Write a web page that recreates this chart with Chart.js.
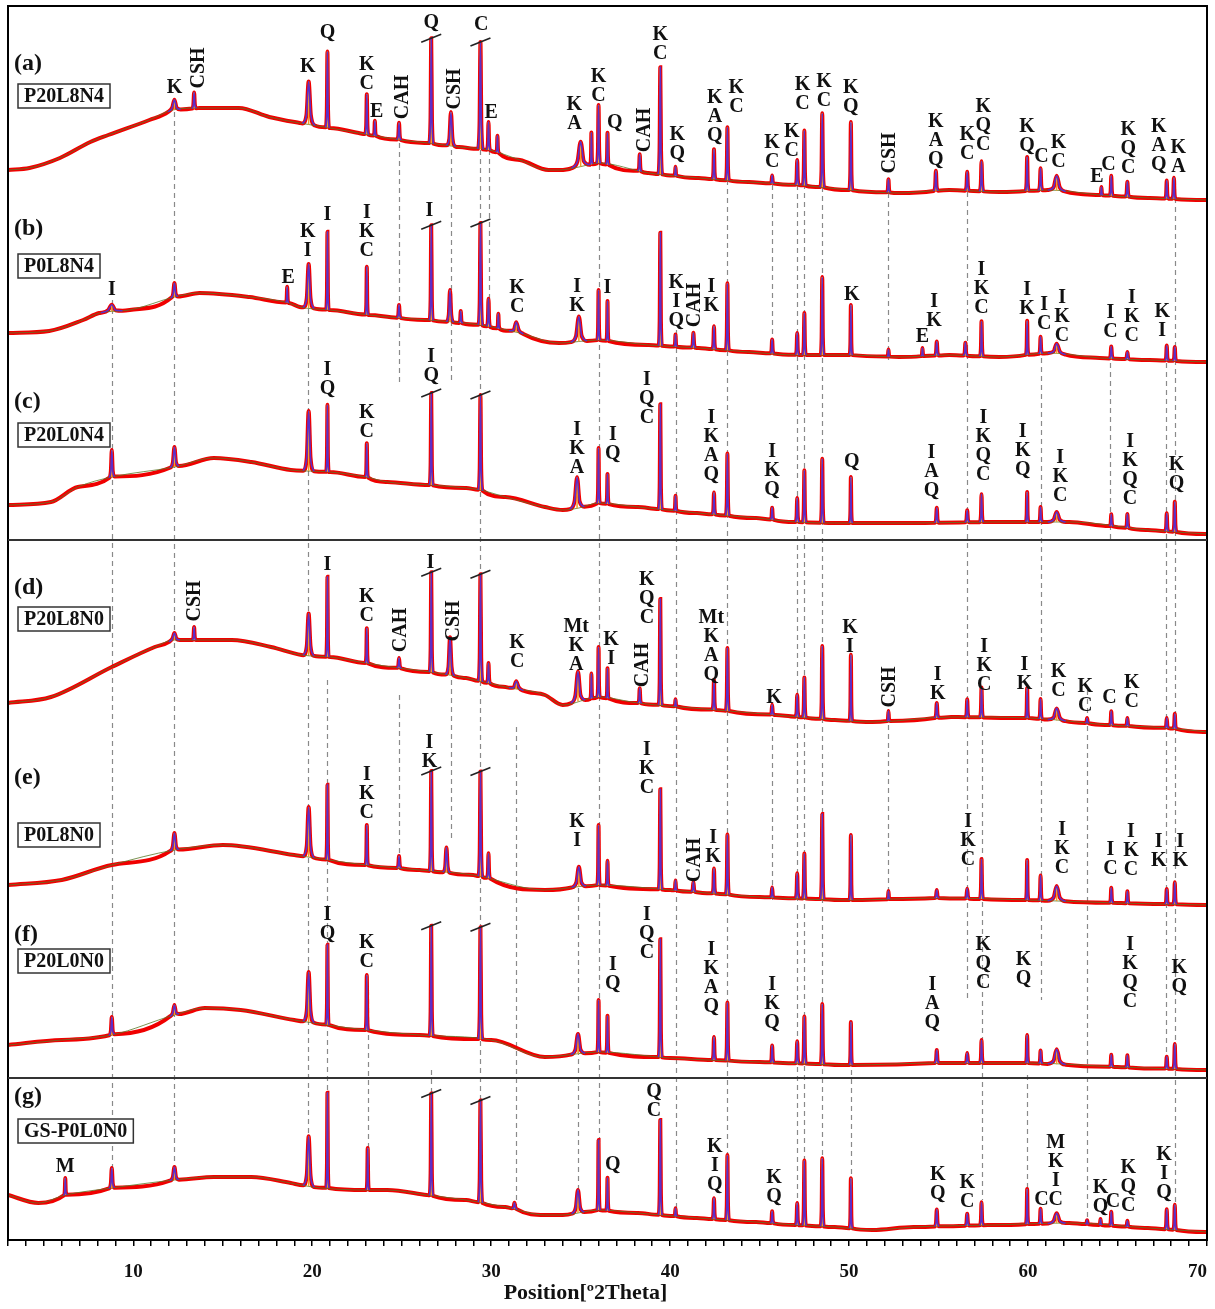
<!DOCTYPE html>
<html>
<head>
<meta charset="utf-8">
<script src="https://cdn.jsdelivr.net/npm/chart.js@4.4.1/dist/chart.umd.min.js"></script>
<style>
html,body{margin:0;padding:0;background:#fff;}
#wrap{width:1215px;height:1309px;}
</style>
</head>
<body>
<div id="wrap"><canvas id="xrd" width="1215" height="1309"></canvas></div>
<script>
// sample names and panel tags, top to bottom
const sampleNames = ['P20L8N4', 'P0L8N4', 'P20L0N4', 'P20L8N0', 'P0L8N0', 'P20L0N0', 'GS-P0L0N0'];
const panelTags = ['(a)', '(b)', '(c)', '(d)', '(e)', '(f)', '(g)'];
const xTicks = [10, 20, 30, 40, 50, 60, 70];
// vertical stacking offset of each pattern (counts)
const offsets = [1040, 878, 706, 508, 335, 170, 8];

// background (amorphous hump) read along 2theta: [2theta, counts]
const baseA = [[3,30],[4.2,32],[5.9,42],[7.6,58],[8.6,65],[10.9,80],[12.2,90],[13.7,92],[15.9,92],[17.6,83],[19.3,77],[21,72],[22.6,67],[24.9,60],[26.5,57],[28.2,53],[29.9,50],[31.6,40],[33.2,30],[33.8,30],[34.9,33],[36,37],[38.8,27],[41.6,22],[44.4,18],[47.2,15],[50,10],[52.8,7],[55.6,10],[58.4,8],[61.2,10],[64,5],[66.8,2],[70,0]];
const baseB = [[3,29],[5.3,31],[7.2,42],[8.1,49],[9.8,52],[12.3,65],[13.7,69],[16.5,65],[18.7,59],[19.3,55],[21,52],[23.2,47],[24.9,44],[26.5,42],[29.4,37],[31.6,29],[33.8,19],[36,22],[38.8,17],[41.6,14],[44.4,10],[47.2,7],[50,7],[52.8,5],[55.6,7],[58.4,5],[61.2,9],[64,4],[66.8,2],[70,0]];
const baseC = [[3,29],[5.4,32],[6.9,47],[8.8,57],[12.3,67],[14.5,76],[16.6,72],[18.8,64],[21,62],[23,57],[24.2,52],[26.6,49],[28.6,46],[29.4,44],[30.8,37],[33,27],[34,24],[34.9,26],[36,31],[38.2,27],[41.5,21],[44.8,16],[47,12],[49.2,11],[53.6,11],[58,12],[62.3,12],[66.7,4],[70,0]];
const baseD = [[3,29],[5.4,35],[8.8,65],[11.2,85],[12.3,92],[15.5,92],[17.7,85],[19.4,77],[21,75],[23,69],[24.8,64],[26.6,60],[28.6,54],[30.8,45],[33,37],[34,27],[36,35],[38.2,29],[42.6,22],[45.9,17],[49.2,12],[51.3,10],[55.7,15],[60.1,14],[64.5,7],[67.8,4],[70,0]];
const baseE = [[3,20],[6,25],[8.8,40],[12.3,55],[15,60],[19,50],[23,40],[26,35],[29,30],[33,15],[36,20],[40,15],[45,8],[50,5],[55,7],[60,5],[65,2],[70,0]];
const baseF = [[3,25],[6,30],[8.8,35],[12.3,55],[14,62],[16,60],[19,50],[23,40],[26,35],[30,30],[33,13],[36,18],[40,12],[45,8],[50,5],[55,7],[60,7],[65,3],[70,0]];
const baseG = [[3,37],[4.7,29],[6.2,37],[8.8,44],[12.3,52],[14.5,55],[16.6,55],[18.8,49],[20,45],[23,42],[24.2,42],[26.4,37],[28.6,32],[30.8,25],[33,17],[34,17],[36,22],[38.2,19],[41.5,14],[44.8,10],[47,7],[49.2,5],[51.3,2],[53.6,5],[58,7],[62.3,9],[66.7,4],[70,0]];

// peaks: [2theta, height above background, half width]
const peaksA = [[12.3,10,.35],[13.4,16,.12],[19.8,43,.35],[20.85,76,.1],[23.05,40,.1],[23.5,15,.08],[24.85,17,.12],[26.65,105,.12],[27.75,34,.25],[29.4,107,.15],[29.85,28,.1],[30.35,17,.08],[35.0,25,.5],[35.6,32,.07],[36.0,58,.1],[36.5,32,.08],[38.3,17,.1],[39.45,107,.12],[40.3,9,.08],[42.45,30,.1],[43.2,53,.1],[45.7,8,.1],[47.1,25,.1],[47.5,55,.1],[48.5,74,.12],[50.1,68,.1],[52.2,13,.1],[54.85,20,.12],[56.6,19,.12],[57.4,30,.12],[59.95,34,.1],[60.7,22,.12],[61.6,15,.5],[64.1,8,.08],[64.65,20,.1],[65.55,15,.12],[67.75,18,.1],[68.15,21,.1]];
const peaksB = [[8.8,7,.6],[12.3,14,.2],[18.6,16,.08],[19.8,44,.3],[20.85,78,.08],[23.05,48,.08],[24.85,13,.12],[26.65,95,.1],[27.7,32,.2],[28.3,12,.1],[29.4,102,.12],[29.85,28,.1],[30.4,15,.08],[31.4,10,.4],[34.9,25,.45],[36.0,50,.08],[36.5,40,.07],[39.45,113,.1],[40.3,12,.08],[41.3,15,.12],[42.45,23,.1],[43.2,67,.1],[45.7,14,.1],[47.1,22,.1],[47.5,42,.1],[48.5,78,.1],[50.1,50,.08],[52.2,7,.08],[54.1,8,.08],[54.9,14,.12],[56.5,13,.12],[57.4,35,.1],[59.95,34,.08],[60.7,17,.1],[61.6,10,.5],[64.65,12,.12],[65.55,7,.12],[67.75,15,.1],[68.2,14,.1]];
const peaksC = [[8.8,27,.15],[12.3,20,.25],[19.8,60,.3],[20.85,67,.08],[23.05,34,.08],[26.65,92,.1],[29.4,95,.12],[34.8,31,.4],[36.0,55,.08],[36.5,30,.08],[39.45,105,.1],[40.3,15,.08],[42.45,22,.1],[43.2,62,.1],[45.7,12,.1],[47.1,24,.1],[47.5,52,.1],[48.5,64,.1],[50.1,46,.08],[54.9,15,.12],[56.6,12,.12],[57.4,28,.1],[59.95,30,.08],[60.7,15,.1],[61.6,10,.5],[64.65,12,.1],[65.55,14,.1],[67.75,18,.1],[68.2,30,.1]];
const peaksD = [[12.3,7,.3],[13.4,13,.1],[19.8,42,.3],[20.85,80,.08],[23.05,35,.08],[24.85,10,.12],[26.65,100,.1],[27.7,38,.25],[29.4,107,.12],[29.85,20,.1],[31.4,8,.4],[34.85,30,.4],[35.6,25,.07],[36.0,50,.08],[36.5,30,.07],[38.3,15,.1],[39.45,106,.1],[40.3,7,.08],[42.45,30,.1],[43.2,63,.1],[45.7,10,.1],[47.1,22,.1],[47.5,40,.1],[48.5,73,.1],[50.1,66,.08],[52.2,10,.08],[54.9,15,.12],[56.6,18,.1],[57.4,30,.1],[59.95,30,.08],[60.7,20,.1],[61.6,12,.5],[63.3,5,.1],[64.65,14,.1],[65.55,8,.1],[67.75,10,.1],[68.2,15,.1]];
const peaksE = [[12.3,17,.25],[19.8,50,.3],[20.85,75,.08],[23.05,40,.08],[24.85,12,.12],[26.65,100,.1],[27.5,25,.2],[29.4,105,.12],[29.85,25,.1],[34.9,20,.4],[36.0,60,.08],[36.5,25,.08],[39.45,100,.1],[40.3,10,.08],[41.3,10,.12],[42.45,25,.1],[43.2,60,.1],[45.7,10,.1],[47.1,25,.1],[47.5,45,.1],[48.5,85,.1],[50.1,65,.08],[52.2,8,.08],[54.9,8,.12],[56.6,10,.12],[57.4,40,.1],[59.95,40,.08],[60.7,25,.1],[61.6,15,.5],[64.65,15,.1],[65.55,12,.1],[67.75,15,.1],[68.2,22,.1]];
const peaksF = [[8.8,18,.15],[12.3,10,.25],[19.8,50,.3],[20.85,80,.08],[23.05,55,.08],[26.65,110,.1],[29.4,112,.12],[34.85,20,.4],[36.0,52,.08],[36.5,37,.08],[39.45,118,.1],[42.45,23,.1],[43.2,58,.1],[45.7,17,.1],[47.1,22,.1],[47.5,47,.1],[48.5,60,.1],[50.1,43,.08],[54.9,13,.12],[56.6,10,.12],[57.4,23,.1],[59.95,28,.08],[60.7,13,.1],[61.6,15,.5],[64.65,12,.1],[65.55,12,.1],[67.75,12,.1],[68.2,25,.1]];
const peaksG = [[6.2,17,.08],[8.8,20,.15],[12.3,13,.25],[19.8,50,.3],[20.85,95,.08],[23.1,42,.08],[26.65,102,.1],[29.4,102,.12],[31.3,6,.15],[34.85,23,.35],[36.0,70,.08],[36.5,33,.08],[39.45,95,.1],[40.3,8,.08],[42.45,21,.1],[43.2,65,.1],[45.7,12,.1],[47.1,22,.1],[47.5,65,.1],[48.5,68,.1],[50.1,50,.08],[54.9,17,.12],[56.6,12,.12],[57.4,23,.1],[59.95,35,.08],[60.7,15,.1],[61.6,10,.5],[63.3,4,.1],[64.05,6,.08],[64.65,14,.1],[65.55,6,.1],[67.75,20,.1],[68.2,25,.1]];

// phase labels: [2theta, text, counts above pattern level of first line, rotated]
const labelsA = [[12.3,'K',112],[13.6,'CSH',132,1],[19.75,'K',133],[20.85,'Q',167],[23.05,'K\nC',135],[23.6,'E',88],[25.0,'CAH',103,1],[26.65,'Q',177],[27.9,'CSH',111,1],[29.45,'C',175],[30.0,'E',87],[34.65,'K\nA',95],[36.0,'K\nC',123],[36.9,'Q',77],[38.55,'CAH',70,1],[39.45,'K\nC',165],[40.4,'K\nQ',65],[42.5,'K\nA\nQ',102],[43.7,'K\nC',112],[45.7,'K\nC',57],[46.8,'K\nC',68],[47.4,'K\nC',115],[48.6,'K\nC',118],[50.1,'K\nQ',112],[52.2,'CSH',47,1],[54.85,'K\nA\nQ',78],[56.6,'K\nC',65],[57.5,'K\nQ\nC',93],[59.95,'K\nQ',73],[60.75,'C',43],[61.7,'K\nC',57],[63.85,'E',23],[64.5,'C',35],[65.6,'K\nQ\nC',70],[67.3,'K\nA\nQ',73],[68.4,'K\nA',52]];
const labelsB = [[8.8,'I',72],[18.65,'E',84],[19.75,'K\nI',130],[20.85,'I',147],[23.05,'I\nK\nC',149],[26.55,'I',151],[31.45,'K\nC',74],[34.8,'I\nK',75],[36.5,'I',74],[40.35,'K\nI\nQ',79],[41.35,'CAH',57,1],[42.3,'I\nK',75],[50.15,'K',67],[54.1,'E',25],[54.75,'I\nK',60],[57.4,'I\nK\nC',92],[59.95,'I\nK',72],[60.9,'I\nC',57],[61.9,'I\nK\nC',64],[64.6,'I\nC',49],[65.8,'I\nK\nC',64],[67.5,'K\nI',50]];
const labelsC = [[20.85,'I\nQ',164],[26.65,'I\nQ',177],[23.05,'K\nC',121],[34.8,'I\nK\nA',104],[36.8,'I\nQ',99],[38.7,'I\nQ\nC',154],[42.3,'I\nK\nA\nQ',116],[45.7,'I\nK\nQ',82],[50.15,'Q',72],[54.6,'I\nA\nQ',81],[57.5,'I\nK\nQ\nC',116],[59.7,'I\nK\nQ',102],[61.8,'I\nK\nC',76],[65.7,'I\nK\nQ\nC',92],[68.3,'K\nQ',69]];
const labelsD = [[13.4,'CSH',131,1],[20.85,'I',167],[23.05,'K\nC',135],[24.9,'CAH',102,1],[26.6,'I',169],[27.85,'CSH',111,1],[31.45,'K\nC',89],[34.75,'Mt\nK\nA',105],[36.7,'K\nI',92],[38.4,'CAH',67,1],[38.7,'K\nQ\nC',152],[42.3,'Mt\nK\nA\nQ',114],[45.8,'K',34],[50.05,'K\nI',104],[52.2,'CSH',45,1],[54.95,'I\nK',57],[57.55,'I\nK\nC',85],[59.8,'I\nK',67],[61.7,'K\nC',60],[63.2,'K\nC',45],[64.55,'C',34],[65.8,'K\nC',49]];
const labelsE = [[23.05,'I\nK\nC',130],[26.55,'I\nK',162],[34.8,'K\nI',83],[38.7,'I\nK\nC',155],[41.3,'CAH',45,1],[42.4,'I\nK',67],[56.65,'I\nK\nC',83],[61.9,'I\nK\nC',75],[64.6,'I\nC',55],[65.75,'I\nK\nC',73],[67.3,'I\nK',63],[68.5,'I\nK',63]];
const labelsF = [[20.85,'I\nQ',155],[23.05,'K\nC',127],[36.8,'I\nQ',105],[38.7,'I\nQ\nC',155],[42.3,'I\nK\nA\nQ',120],[45.7,'I\nK\nQ',85],[54.65,'I\nA\nQ',85],[57.5,'K\nQ\nC',125],[59.75,'K\nQ',110],[65.7,'I\nK\nQ\nC',125],[68.45,'K\nQ',102]];
const labelsG = [[6.2,'M',65],[36.8,'Q',67],[39.1,'Q\nC',140],[42.5,'K\nI\nQ',85],[45.8,'K\nQ',54],[54.95,'K\nQ',57],[56.6,'K\nC',49],[61.55,'M\nK\nI\nC',89],[60.75,'C',32],[64.05,'K\nQ',44],[64.75,'C',30],[65.6,'K\nQ\nC',64],[67.6,'K\nI\nQ',77]];

// dashed reference lines: [2theta, top px, bottom px]
const guides = [[8.8,300,1170],[12.3,112,1170],[19.75,300,1140],[20.85,680,1093],[23.1,990,1150],[24.85,125,385],[24.85,695,870],[26.65,1070,1093],[27.75,150,380],[27.75,680,840],[29.4,150,1100],[29.9,150,330],[31.4,727,1205],[34.85,870,1190],[36.0,165,1145],[40.3,330,1210],[43.2,180,1155],[45.7,185,345],[45.7,718,900],[47.1,185,1205],[47.5,130,1165],[48.5,115,1160],[50.1,1070,1180],[52.2,193,360],[52.2,725,900],[56.6,192,1000],[57.4,695,1200],[59.95,1075,1190],[60.7,340,1000],[63.3,690,1225],[64.6,345,540],[67.7,345,1070],[68.2,180,1205]];

const bases = [baseA, baseB, baseC, baseD, baseE, baseF, baseG];
const peaks = [peaksA, peaksB, peaksC, peaksD, peaksE, peaksF, peaksG];
const labels = [labelsA, labelsB, labelsC, labelsD, labelsE, labelsF, labelsG];
const panelTop = [64, 229, 402, 588, 778, 935, 1097];   // tag centre y
const boxTop = [84, 254, 423, 607, 823, 949, 1119];
const separators = [540, 1078];
const cutPeaks = [26.65, 29.4];

function baseAt(base, t) {
  if (t <= base[0][0]) return base[0][1];
  for (let i = 1; i < base.length; i++) {
    if (t <= base[i][0]) {
      const [x0, y0] = base[i - 1], [x1, y1] = base[i];
      return y0 + (y1 - y0) * (t - x0) / (x1 - x0);
    }
  }
  return base[base.length - 1][1];
}

function peakShape(base, p, h, w, off) {
  const bp = baseAt(base, p);
  return [
    {x: p - w, y: off + baseAt(base, p - w)},
    {x: p - w * 0.35, y: off + bp + h * 0.22},
    {x: p, y: off + bp + h},
    {x: p + w * 0.35, y: off + bp + h * 0.22},
    {x: p + w, y: off + baseAt(base, p + w)}
  ];
}

function tracePoints(i) {
  const base = bases[i], pk = peaks[i], off = offsets[i];
  const pts = [];
  base.forEach(([t, v]) => {
    if (!pk.some(([p, h, w]) => Math.abs(t - p) < w)) pts.push({x: t, y: off + v});
  });
  pk.forEach(([p, h, w]) => pts.push(...peakShape(base, p, h, w, off)));
  pts.sort((a, b) => a.x - b.x);
  return pts;
}

function fitPoints(i) {
  const pts = [];
  peaks[i].forEach(([p, h, w]) => {
    pts.push(...peakShape(bases[i], p, h, w, offsets[i]));
    pts.push({x: p + w, y: null});
  });
  return pts;
}

function stickPoints(i) {
  const pts = [];
  peaks[i].forEach(([p, h]) => {
    const b = offsets[i] + baseAt(bases[i], p);
    pts.push({x: p, y: b}, {x: p, y: b + h}, {x: p, y: null});
  });
  return pts;
}

const datasets = [];
bases.forEach((base, i) => {
  datasets.push({data: fitPoints(i), borderColor: '#5b2fc9', borderWidth: 1.6, order: 1, cubicInterpolationMode: 'monotone'});
  datasets.push({data: stickPoints(i), borderColor: '#f2a02a', borderWidth: 1.5, order: 2});
  datasets.push({data: base.map(([t, v]) => ({x: t, y: offsets[i] + v})), borderColor: 'rgba(90,120,40,0.8)', borderWidth: 1, order: 3, cubicInterpolationMode: 'monotone'});
  datasets.push({data: tracePoints(i), borderColor: '#f00000', borderWidth: 4, order: 4, cubicInterpolationMode: 'monotone'});
});

const SERIF = "'Liberation Serif', 'DejaVu Serif', serif";

const decor = {
  id: 'decor',
  beforeDatasetsDraw(chart) {
    const {ctx, scales: {x}} = chart;
    ctx.save();
    ctx.strokeStyle = '#8a8a8a';
    ctx.lineWidth = 1.2;
    ctx.setLineDash([5, 4]);
    guides.forEach(([t, y0, y1]) => {
      const px = Math.round(x.getPixelForValue(t)) + 0.5;
      ctx.beginPath(); ctx.moveTo(px, y0); ctx.lineTo(px, y1); ctx.stroke();
    });
    ctx.restore();
  },
  afterDatasetsDraw(chart) {
    const {ctx, chartArea: a, scales: {x, y}} = chart;
    ctx.save();
    // frame and panel separators
    ctx.strokeStyle = '#000';
    ctx.lineWidth = 2;
    ctx.strokeRect(a.left, a.top, a.right - a.left, a.bottom - a.top);
    ctx.strokeStyle = '#333';
    separators.forEach(s => {
      ctx.beginPath(); ctx.moveTo(a.left, s); ctx.lineTo(a.right, s); ctx.stroke();
    });
    // break marks on the clipped peaks
    ctx.strokeStyle = '#222';
    ctx.lineWidth = 1.6;
    peaks.forEach((pk, i) => {
      pk.forEach(([p, h]) => {
        if (!cutPeaks.includes(p)) return;
        const px = x.getPixelForValue(p);
        const py = y.getPixelForValue(offsets[i] + baseAt(bases[i], p) + h);
        ctx.beginPath(); ctx.moveTo(px - 10, py + 4); ctx.lineTo(px + 10, py - 4); ctx.stroke();
      });
    });
    // phase labels
    ctx.fillStyle = '#111';
    ctx.font = 'bold 20px ' + SERIF;
    ctx.textAlign = 'center';
    ctx.textBaseline = 'middle';
    labels.forEach((lb, i) => {
      lb.forEach(([t, text, v, rot]) => {
        const px = x.getPixelForValue(t);
        const py = y.getPixelForValue(offsets[i] + v);
        if (rot) {
          ctx.save();
          ctx.translate(px, py);
          ctx.rotate(-Math.PI / 2);
          ctx.fillText(text, 0, 1);
          ctx.restore();
        } else {
          text.split('\n').forEach((s, k) => ctx.fillText(s, px, py + k * 19));
        }
      });
    });
    // panel tags and sample boxes
    ctx.textAlign = 'left';
    sampleNames.forEach((name, i) => {
      ctx.font = 'bold 24px ' + SERIF;
      ctx.fillText(panelTags[i], 14, panelTop[i]);
      ctx.font = 'bold 20px ' + SERIF;
      const w = ctx.measureText(name).width;
      ctx.fillStyle = '#fff';
      ctx.fillRect(18, boxTop[i], w + 12, 24);
      ctx.fillStyle = '#111';
      ctx.lineWidth = 1.5;
      ctx.strokeStyle = '#333';
      ctx.strokeRect(18, boxTop[i], w + 12, 24);
      ctx.fillText(name, 24, boxTop[i] + 13);
    });
    ctx.restore();
  }
};

new Chart(document.getElementById('xrd'), {
  type: 'line',
  data: {datasets},
  options: {
    responsive: false,
    animation: false,
    spanGaps: false,
    elements: {point: {radius: 0}, line: {tension: 0}},
    layout: {padding: {left: 8, right: 8, top: 6, bottom: 0}},
    plugins: {legend: {display: false}, tooltip: {enabled: false}},
    scales: {
      x: {
        type: 'linear', min: 3, max: 70,
        afterFit(s) { s.height = 69; },
        ticks: {
          stepSize: 1, autoSkip: false, maxRotation: 0, align: 'inner', padding: 8,
          color: '#111', font: {family: SERIF, size: 19, weight: 'bold', lineHeight: 1.9},
          callback: v => xTicks.includes(v) ? String(v) : ''
        },
        grid: {drawOnChartArea: false, drawTicks: true, tickLength: 6, color: '#000', lineWidth: 1.5},
        border: {color: '#000', width: 2},
        title: {display: true, text: 'Position[º2Theta]\u00a0\u00a0\u00a0\u00a0\u00a0\u00a0\u00a0\u00a0', color: '#111', font: {family: SERIF, size: 22, weight: 'bold'}, padding: {top: 0, bottom: 2}}
      },
      y: {type: 'linear', min: 0, max: 1234, display: false}
    }
  },
  plugins: [decor]
});
</script>
</body>
</html>
